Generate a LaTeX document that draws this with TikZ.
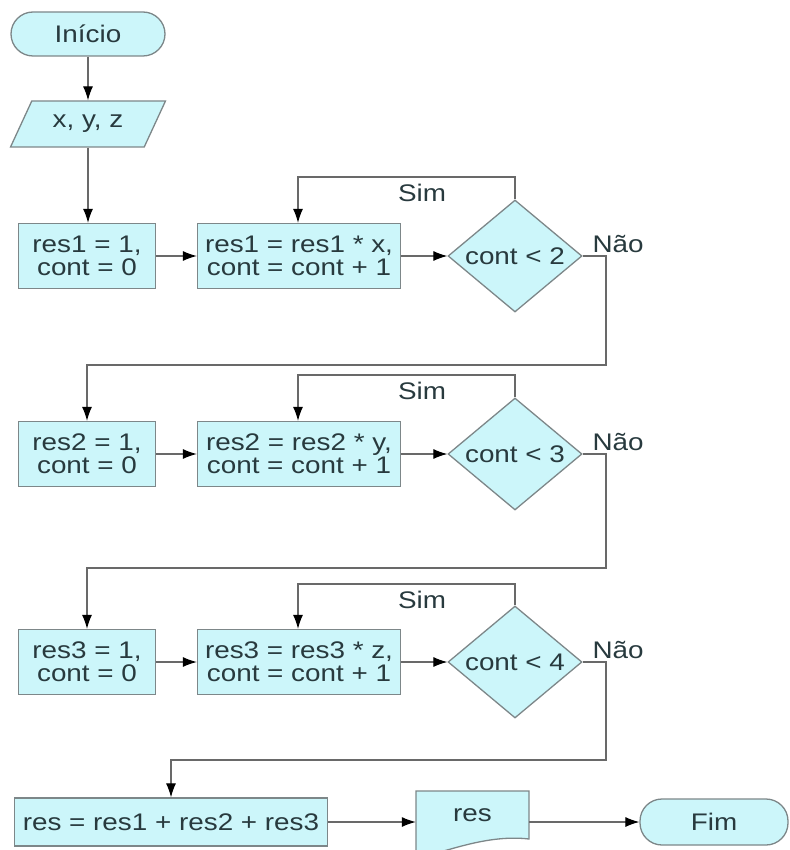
\documentclass[tikz,border=0pt]{standalone}
\usepackage{fontspec}
\setmainfont{Liberation Sans}[FakeStretch=1.16]
\usetikzlibrary{arrows.meta,shapes.geometric}
\definecolor{boxfill}{RGB}{204,246,250}
\definecolor{boxline}{RGB}{125,135,137}
\definecolor{txtgray}{RGB}{40,58,62}
\definecolor{linegray}{RGB}{105,105,105}

\begin{document}
\begin{tikzpicture}[x=1pt, y=-1pt,
    every node/.style={font=\fontsize{24}{23}\selectfont, text=txtgray},
    forma/.style={draw=boxline, fill=boxfill, line width=1.3pt},
    proc/.style={forma, inner sep=2pt, align=center, minimum height=65pt},
    term/.style={forma, rounded corners=22pt, minimum height=44pt},
    decis/.style={forma, diamond, aspect=1.2, inner sep=0pt, minimum width=134pt, minimum height=112pt},
    entrada/.style={forma, trapezium, trapezium left angle=59, trapezium right angle=121,
        trapezium stretches=true, minimum width=155pt, minimum height=46pt},
    fio/.style={draw=linegray, line width=1.1pt},
    seta/.style={fio, -{Latex[length=14pt,width=10pt,color=black]}}]
    \useasboundingbox (0,0) rectangle (789,850);
    \node[term, minimum width=154pt] (inicio) at (88,34) {Início};
    \node[entrada] (xyz) at (88,124) {x, y, z};
    \node[proc, minimum width=137pt] (a1) at (87,256) {res1 = 1,\\cont = 0};
    \node[proc, minimum width=203pt] (b1) at (299,256) {res1 = res1 * x,\\cont = cont + 1};
    \node[decis] (d1) at (515,256) {cont < 2};
    \node[proc, minimum width=137pt] (a2) at (87,454) {res2 = 1,\\cont = 0};
    \node[proc, minimum width=203pt] (b2) at (299,454) {res2 = res2 * y,\\cont = cont + 1};
    \node[decis] (d2) at (515,454) {cont < 3};
    \node[proc, minimum width=137pt] (a3) at (87,662) {res3 = 1,\\cont = 0};
    \node[proc, minimum width=203pt] (b3) at (299,662) {res3 = res3 * z,\\cont = cont + 1};
    \node[decis] (d3) at (515,662) {cont < 4};
    \node[proc, minimum width=313pt, minimum height=48pt] (soma) at (171,822) {res = res1 + res2 + res3};
    \draw[forma] (416,791) -- (529,791) -- (529,839) .. controls (495,835) and (462,846) .. (440,852) -- (416,860) -- cycle;
    \node[minimum width=113pt, minimum height=48pt] (saida) at (472.5,815) {res};
    \node[term, minimum width=148pt, minimum height=46pt] (fim) at (714,822) {Fim};
    \node (sim1) at (422,193) {Sim};
    \node (sim2) at (422,391) {Sim};
    \node (sim3) at (422,600) {Sim};
    \node[anchor=base west] (nao1) at (589,252) {Não};
    \node[anchor=base west] (nao2) at (589,450) {Não};
    \node[anchor=base west] (nao3) at (589,658) {Não};
    \coordinate (s1) at (298,177);
    \coordinate (s2) at (298,375);
    \coordinate (s3) at (298,584);
    \coordinate (n1) at (606,365);
    \coordinate (n2) at (606,568);
    \coordinate (n3) at (606,760);
    \draw[seta] (inicio) -- (xyz);
    \draw[seta] (xyz.south) -- (xyz.south |- a1.north);
    \draw[seta] (a1) -- (b1);
    \draw[seta] (b1) -- (d1);
    \draw[seta] (d1.north) |- (s1) -- (s1 |- b1.north);
    \draw[seta] (d1.east) -| (n1) -| (a2.north);
    \draw[seta] (a2) -- (b2);
    \draw[seta] (b2) -- (d2);
    \draw[seta] (d2.north) |- (s2) -- (s2 |- b2.north);
    \draw[seta] (d2.east) -| (n2) -| (a3.north);
    \draw[seta] (a3) -- (b3);
    \draw[seta] (b3) -- (d3);
    \draw[seta] (d3.north) |- (s3) -- (s3 |- b3.north);
    \draw[seta] (d3.east) -| (n3) -| (soma.north);
    \draw[seta] (soma) -- (soma -| saida.west);
    \draw[seta] (saida.east |- fim) -- (fim);
\end{tikzpicture}
\end{document}
